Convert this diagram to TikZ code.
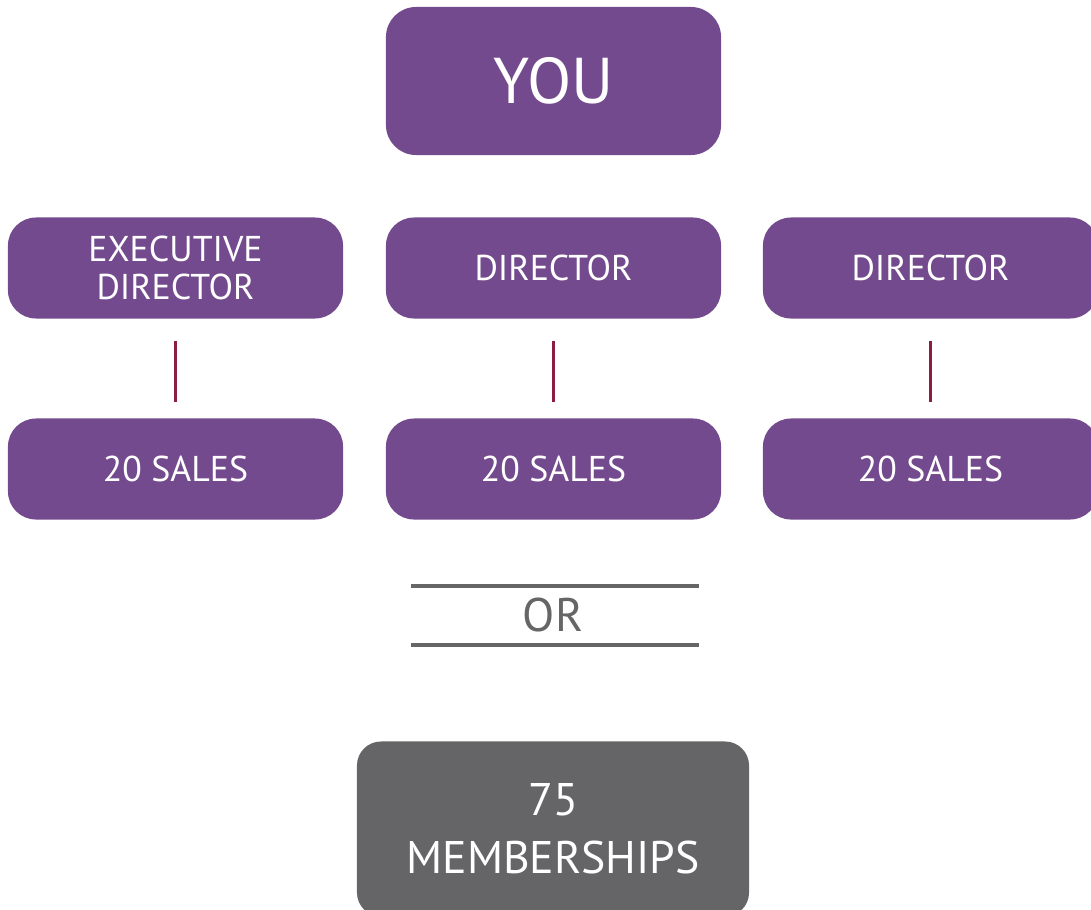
\documentclass[tikz,border=0pt]{standalone}
\usepackage{fontspec}
\setmainfont{PT Sans}
\definecolor{plum}{HTML}{734A8D}
\definecolor{stone}{HTML}{656567}
\definecolor{wine}{HTML}{8C1D40}
\definecolor{rule}{HTML}{666666}
\tikzset{
  box/.style={fill=plum, text=white, rounded corners=0.7cm, align=center,
    minimum width=8.375cm, minimum height=2.525cm, inner sep=0pt,
    font=\fontsize{25.5}{26}\selectfont},
  link/.style={wine, line width=2.1pt, shorten <=0.55cm, shorten >=0.4cm}
}
\begin{document}
\begin{tikzpicture}[x=0.025cm, y=-0.025cm]
      \useasboundingbox (0,0) rectangle (1091,909);
      \draw
        (553.5,81) node[box, minimum height=3.7cm, rounded corners=0.75cm,
          font=\fontsize{46}{46}\selectfont] (you){YOU}
        (175.5,268) node[box, font=\fontsize{25.5}{27}\selectfont] (exec){EXECUTIVE\\DIRECTOR}
        (553.5,268) node[box] (dir1){DIRECTOR}
        (930.5,268) node[box] (dir2){DIRECTOR}
        (175.5,469) node[box] (sales0){20 SALES}
        (553.5,469) node[box] (sales1){20 SALES}
        (930.5,469) node[box] (sales2){20 SALES}
        (553,829) node[box, fill=stone, minimum width=9.8cm, minimum height=4.375cm,
          rounded corners=0.6cm, font=\fontsize{32.5}{41}\selectfont] (members){75\\MEMBERSHIPS}
        (553,615) node[text=rule, font=\fontsize{33.5}{33}\selectfont] (or){OR};
      \begin{scope}[-]
        \draw[link] (exec) to (sales0);
        \draw[link] (dir1) to (sales1);
        \draw[link] (dir2) to (sales2);
      \end{scope}
      \coordinate (ortl) at (411,586);
      \coordinate (ortr) at (699,586);
      \coordinate (orbl) at (411,645);
      \coordinate (orbr) at (699,645);
      \draw[rule, line width=2.8pt] (ortl) -- (ortr);
      \draw[rule, line width=2.8pt] (orbl) -- (orbr);
    \end{tikzpicture}
\end{document}
